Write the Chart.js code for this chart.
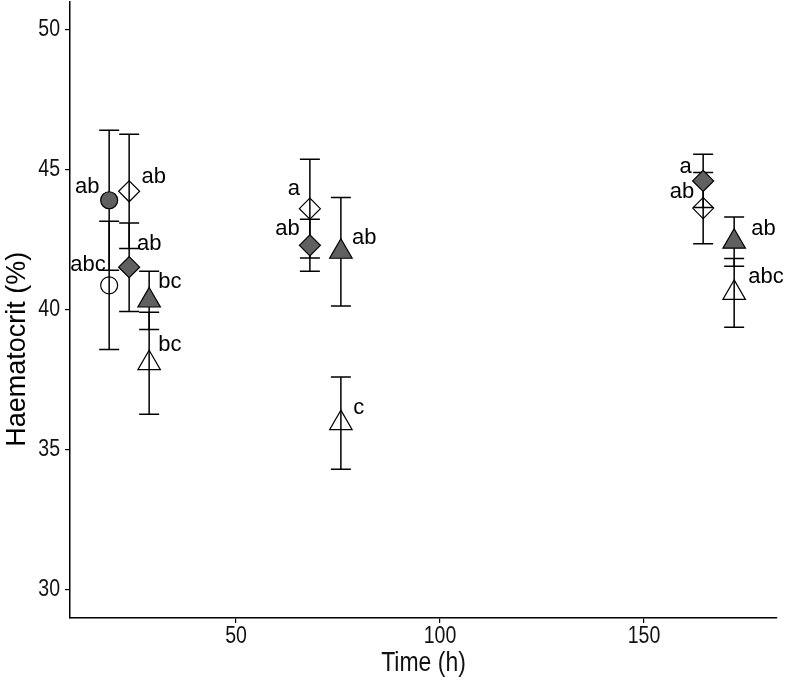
<!DOCTYPE html>
<html>
<head>
<meta charset="utf-8">
<script src="https://cdn.jsdelivr.net/npm/chart.js@4/dist/chart.umd.min.js"></script>
<style>
    body { margin: 0; background: #fff; }
    canvas { display: block; }
</style>
</head>
<body>
<canvas id="haematocritChart" width="791" height="681"></canvas>
<script>
// Sampling times (h) for each marker group
var timesCircle = [18.9];
var timesDiamond = [23.8, 68.1, 164.5];
var timesTriangle = [28.7, 75.7, 172.1];

// Mean haematocrit (%) and error (+/-) per series
var filledCircleMean = [43.92];
var filledCircleErr = [2.50];
var openCircleMean = [40.88];
var openCircleErr = [2.29];
var openDiamondMean = [44.24, 43.62, 43.64];
var openDiamondErr = [2.04, 1.76, 1.27];
var filledDiamondMean = [41.53, 42.31, 44.61];
var filledDiamondErr = [1.58, 0.93, 0.95];
var filledTriangleMean = [40.34, 42.08, 42.44];
var filledTriangleErr = [1.04, 1.94, 0.88];
var openTriangleMean = [38.10, 35.96, 40.61];
var openTriangleErr = [1.82, 1.65, 1.23];

// Significance letters and where they sit (in axis units: time, haematocrit)
var letterText = ["ab", "abc", "ab", "ab", "bc", "bc", "a", "ab", "ab", "c", "a", "ab", "ab", "abc"];
var letterTime = [13.5, 13.7, 29.8, 28.7, 33.8, 33.8, 64.2, 62.6, 81.4, 80.1, 160.2, 159.3, 179.3, 179.9];
var letterValue = [44.17, 41.41, 44.53, 42.13, 40.77, 38.52, 44.10, 42.67, 42.34, 36.30, 44.89, 43.99, 42.67, 40.95];

// Axis ticks
var xTicks = [50, 100, 150];
var yTicks = [30, 35, 40, 45, 50];

var FONT = "'Liberation Sans', Arial, sans-serif";
var DARK = "#606060";

function toPoints(times, means) {
    return times.map(function (t, i) {
        return { x: t, y: means[i] };
    });
}

function makeSeries(label, times, means, errs, style, radius, fill) {
    return {
        label: label,
        data: toPoints(times, means),
        errors: errs,
        pointStyle: style,
        pointRadius: radius,
        pointHoverRadius: radius,
        pointBackgroundColor: fill,
        pointBorderColor: "#000",
        pointBorderWidth: 1.2,
        showLine: false,
    };
}

// Vertical error bars with caps, drawn under the markers
var errorBarsPlugin = {
    id: "errorBars",
    beforeDatasetsDraw: function (chart) {
        var ctx = chart.ctx;
        var xs = chart.scales.x;
        var ys = chart.scales.y;
        var cap = 10;
        ctx.save();
        ctx.strokeStyle = "#000";
        ctx.lineWidth = 1.5;
        chart.data.datasets.forEach(function (ds) {
            ds.data.forEach(function (p, i) {
                var x = xs.getPixelForValue(p.x);
                var top = ys.getPixelForValue(p.y + ds.errors[i]);
                var bot = ys.getPixelForValue(p.y - ds.errors[i]);
                ctx.beginPath();
                ctx.moveTo(x, top);
                ctx.lineTo(x, bot);
                ctx.moveTo(x - cap, top);
                ctx.lineTo(x + cap, top);
                ctx.moveTo(x - cap, bot);
                ctx.lineTo(x + cap, bot);
                ctx.stroke();
            });
        });
        ctx.restore();
    },
};

// Letters next to the points
var lettersPlugin = {
    id: "letters",
    afterDatasetsDraw: function (chart) {
        var ctx = chart.ctx;
        var xs = chart.scales.x;
        var ys = chart.scales.y;
        ctx.save();
        ctx.fillStyle = "#000";
        ctx.font = "22px " + FONT;
        ctx.textAlign = "center";
        ctx.textBaseline = "alphabetic";
        letterText.forEach(function (txt, i) {
            ctx.fillText(txt, xs.getPixelForValue(letterTime[i]), ys.getPixelForValue(letterValue[i]));
        });
        ctx.restore();
    },
};

// Tick labels and axis titles in a condensed look (no narrow font installed, so squeeze)
var axisTextPlugin = {
    id: "axisText",
    afterDraw: function (chart) {
        var ctx = chart.ctx;
        var xs = chart.scales.x;
        var ys = chart.scales.y;

        function narrowText(txt, x, y, size, align, baseline, squeeze) {
            ctx.save();
            ctx.translate(x, y);
            ctx.scale(squeeze, 1);
            ctx.font = size + "px " + FONT;
            ctx.fillStyle = "#111";
            ctx.textAlign = align;
            ctx.textBaseline = baseline;
            ctx.fillText(txt, 0, 0);
            ctx.restore();
        }

        yTicks.forEach(function (v) {
            narrowText(String(v), ys.left + 60, ys.getPixelForValue(v), 23, "right", "middle", 0.85);
        });
        xTicks.forEach(function (v) {
            narrowText(String(v), xs.getPixelForValue(v), xs.top + 25, 23, "center", "alphabetic", 0.85);
        });
        narrowText("Time (h)", (xs.left + xs.right) / 2, xs.top + 53, 28, "center", "alphabetic", 0.82);

        // y title sits a little below the panel centre in the original
        ctx.save();
        ctx.translate(18, ys.getPixelForValue(38.6));
        ctx.rotate(-Math.PI / 2);
        ctx.font = "27px " + FONT;
        ctx.fillStyle = "#000";
        ctx.textAlign = "center";
        ctx.textBaseline = "middle";
        ctx.fillText("Haematocrit (%)", 0, 0);
        ctx.restore();
    },
};

function noEdgePadding(s) {
    s.paddingTop = 0;
    s.paddingBottom = 0;
    s.paddingLeft = 0;
    s.paddingRight = 0;
}

function setupChart() {
    var el = document.getElementById("haematocritChart");
    new Chart(el, {
        type: "scatter",
        data: {
            datasets: [
                makeSeries("filled circle", timesCircle, filledCircleMean, filledCircleErr, "circle", 8.5, DARK),
                makeSeries("open circle", timesCircle, openCircleMean, openCircleErr, "circle", 8.5, "rgba(0,0,0,0)"),
                makeSeries("open diamond", timesDiamond, openDiamondMean, openDiamondErr, "rectRot", 10.5, "rgba(0,0,0,0)"),
                makeSeries("filled diamond", timesDiamond, filledDiamondMean, filledDiamondErr, "rectRot", 10.5, DARK),
                makeSeries("filled triangle", timesTriangle, filledTriangleMean, filledTriangleErr, "triangle", 13, DARK),
                makeSeries("open triangle", timesTriangle, openTriangleMean, openTriangleErr, "triangle", 13, "rgba(0,0,0,0)"),
            ],
        },
        options: {
            responsive: false,
            animation: false,
            layout: { autoPadding: false, padding: { left: 0, top: 2, right: 14, bottom: 0 } },
            plugins: {
                legend: { display: false },
                tooltip: { enabled: false },
            },
            scales: {
                x: {
                    type: "linear",
                    min: 9.3,
                    max: 182.6,
                    afterBuildTicks: function (s) {
                        s.ticks = xTicks.map(function (v) { return { value: v }; });
                    },
                    afterFit: function (s) {
                        s.height = 63;
                        noEdgePadding(s);
                    },
                    grid: { drawOnChartArea: false, drawTicks: true, tickLength: 5, color: "#000", lineWidth: 1.2 },
                    border: { color: "#000", width: 1.5 },
                    ticks: { display: false },
                    title: { display: false },
                },
                y: {
                    type: "linear",
                    min: 29,
                    max: 51,
                    afterBuildTicks: function (s) {
                        s.ticks = yTicks.map(function (v) { return { value: v }; });
                    },
                    afterFit: function (s) {
                        s.width = 70;
                        noEdgePadding(s);
                    },
                    grid: { drawOnChartArea: false, drawTicks: true, tickLength: 5, color: "#000", lineWidth: 1.2 },
                    border: { color: "#000", width: 1.5 },
                    ticks: { display: false },
                    title: { display: false },
                },
            },
        },
        plugins: [errorBarsPlugin, lettersPlugin, axisTextPlugin],
    });
}

window.addEventListener("load", setupChart);
</script>
</body>
</html>
